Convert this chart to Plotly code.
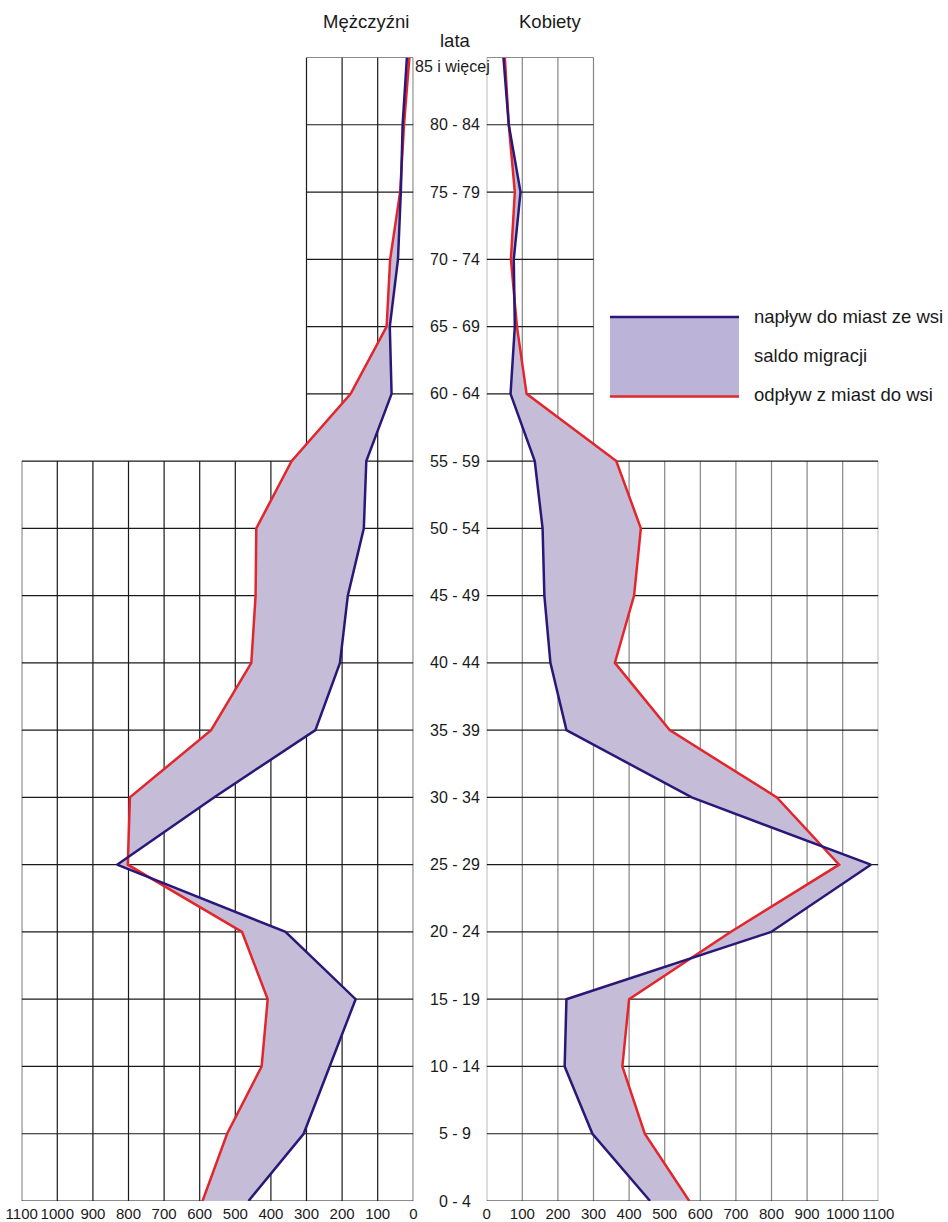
import plotly.graph_objects as go

# ---- data ----
age_groups = ["0 - 4", "5 - 9", "10 - 14", "15 - 19", "20 - 24", "25 - 29", "30 - 34",
              "35 - 39", "40 - 44", "45 - 49", "50 - 54", "55 - 59", "60 - 64",
              "65 - 69", "70 - 74", "75 - 79", "80 - 84", "85 i więcej"]
men_inflow = [463, 308, 235, 162, 359, 832, 560, 275, 206, 184, 139, 132, 61, 66, 43, 35, 30, 18]
men_outflow = [592, 523, 426, 409, 481, 802, 796, 568, 455, 443, 441, 342, 176, 75, 65, 37, 26, 11]
women_inflow = [459, 297, 219, 224, 799, 1079, 576, 224, 179, 162, 157, 135, 67, 79, 76, 95, 62, 47]
women_outflow = [569, 444, 381, 400, 685, 990, 815, 514, 360, 414, 433, 364, 112, 85, 68, 79, 62, 51]
tick_values = list(range(0, 1101, 100))
tick_labels = [str(v) for v in tick_values]
legend_labels = ["napływ do miast ze wsi", "saldo migracji", "odpływ z miast do wsi"]

W, H = 948, 1222
def px(x): return x / W
def py(y): return 1 - y / H

FONT = "Liberation Sans, Arial, sans-serif"
BLUE = "#2A1878"
RED = "#E3262B"
FILL = "#C5BDD7"
LEGFILL = "#BBB3D8"

yidx = list(range(len(age_groups)))
fig = go.Figure()

for xa, inflow, outflow in (("x", men_inflow, men_outflow), ("x2", women_inflow, women_outflow)):
    fig.add_trace(go.Scatter(x=inflow + outflow[::-1], y=yidx + yidx[::-1], xaxis=xa, yaxis="y",
                             mode="lines", fill="toself", fillcolor=FILL,
                             line=dict(width=0), hoverinfo="skip", showlegend=False))
    fig.add_trace(go.Scatter(x=outflow, y=yidx, xaxis=xa, yaxis="y", mode="lines",
                             line=dict(color=RED, width=2.5), showlegend=False))
    fig.add_trace(go.Scatter(x=inflow, y=yidx, xaxis=xa, yaxis="y", mode="lines",
                             line=dict(color=BLUE, width=2.5), showlegend=False))

# grid (full width up to 55-59, narrow 0-300 above)
full_top = age_groups.index("55 - 59")
top = len(age_groups) - 1
shapes = []
for xr, vcol in (("x", "#1a1a1a"), ("x2", "#858585")):
    for v in tick_values:
        y1 = top if v <= 300 else full_top
        shapes.append(dict(type="line", xref=xr, yref="y", x0=v, x1=v, y0=0, y1=y1,
                           line=dict(color=vcol, width=1.2), layer="below"))
    for i in yidx:
        x1 = 1100 if i <= full_top else 300
        shapes.append(dict(type="line", xref=xr, yref="y", x0=0, x1=x1, y0=i, y1=i,
                           line=dict(color="#1a1a1a", width=1.2), layer="below"))

# legend box
shapes.append(dict(type="rect", xref="paper", yref="paper", x0=px(610), x1=px(739),
                   y0=py(396.5), y1=py(317), fillcolor=LEGFILL, line=dict(width=0)))
shapes.append(dict(type="line", xref="paper", yref="paper", x0=px(610), x1=px(739),
                   y0=py(317), y1=py(317), line=dict(color=BLUE, width=2.5)))
shapes.append(dict(type="line", xref="paper", yref="paper", x0=px(610), x1=px(739),
                   y0=py(396.5), y1=py(396.5), line=dict(color=RED, width=2.5)))

annotations = []
for i, lab in enumerate(age_groups):
    annotations.append(dict(text=lab, xref="paper", yref="y", x=px(455 if i < top else 452.5), y=i,
                            yshift=(-9 if i == top else 0), showarrow=False,
                            font=dict(family=FONT, size=16, color="#1a1a1a"),
                            xanchor="center", yanchor="middle"))
for txt, x, y in (("Mężczyźni", 366, 22), ("Kobiety", 550, 22), ("lata", 455, 40)):
    annotations.append(dict(text=txt, xref="paper", yref="paper", x=px(x), y=py(y), showarrow=False,
                            font=dict(family=FONT, size=18.5, color="#1a1a1a"),
                            xanchor="center", yanchor="middle"))
for txt, y in zip(legend_labels, (316.5, 355, 394)):
    annotations.append(dict(text=txt, xref="paper", yref="paper", x=px(752), y=py(y), showarrow=False,
                            font=dict(family=FONT, size=18.5, color="#1a1a1a"),
                            xanchor="left", yanchor="middle"))

axis_common = dict(showgrid=False, zeroline=False, showline=False, ticks="", tickangle=0,
                   tickvals=tick_values, ticktext=tick_labels, anchor="y", automargin=False,
                   ticklabelstandoff=2,
                   tickfont=dict(family=FONT, size=15, color="#1a1a1a"), fixedrange=True)

fig.update_layout(
    width=W, height=H,
    margin=dict(l=0, r=0, t=0, b=0, autoexpand=False),
    paper_bgcolor="white", plot_bgcolor="rgba(0,0,0,0)",
    xaxis=dict(domain=[px(21.7), px(413.3)], range=[1100, 0], **axis_common),
    xaxis2=dict(domain=[px(486.7), px(878.3)], range=[0, 1100], **axis_common),
    yaxis=dict(domain=[py(1201), py(57.5)], range=[0, top], visible=False, fixedrange=True,
               automargin=False),
    shapes=shapes, annotations=annotations, showlegend=False,
)

fig.write_html("out.html", config={"displayModeBar": False},
               post_script="document.body.style.margin='0';document.body.style.overflow='hidden';")
